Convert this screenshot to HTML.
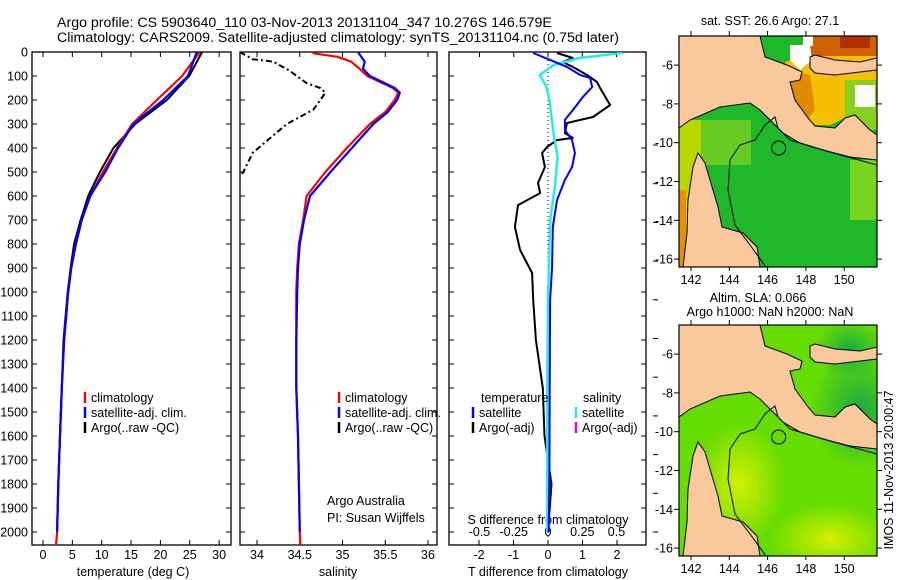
<!DOCTYPE html>
<html><head><meta charset="utf-8"><style>
html,body{margin:0;padding:0;background:#fff;}
svg{display:block;font-family:"Liberation Sans",sans-serif;}
text{font-size:12.5px;fill:#000;}
</style></head><body>
<svg id="fig" width="900" height="580" viewBox="0 0 900 580">
<text x="57" y="27" style="font-size:14.2px">Argo profile: CS 5903640_110 03-Nov-2013 20131104_347 10.276S 146.579E</text>
<text x="57" y="42" style="font-size:14.2px">Climatology: CARS2009. Satellite-adjusted climatology: synTS_20131104.nc (0.75d later)</text>
<g id="plots"></g>
<g id="maps"></g>
<text transform="translate(893,470) rotate(-90)" text-anchor="middle">IMOS 11-Nov-2013 20:00:47</text>
</svg>
<script>
// ---- data ----
const tDepth=[0,100,200,300,400,500,600,700,800,900,1000,1200,1400,1600,1800,2000,2062];
const tClim=[26.7,23.7,19.4,15.2,12.6,10.2,8.1,6.6,5.6,4.8,4.3,3.6,3.2,2.9,2.6,2.4,2.2];
const tSat=[26.2,24.7,20.5,15.4,12.8,10.6,8.0,6.6,5.6,4.8,4.3,3.6,3.2,2.9,2.6,2.4];
const tArgo=[27.1,24.9,21.1,15.7,12.0,9.7,7.7,6.4,5.3,4.7,4.2,3.5,3.2,2.9,2.6,2.4];
const sDepth=[5,20,40,70,100,150,170,200,250,300,400,500,600,700,800,900,1000,1200,1400,1600,1800,2000,2062];
const sClim=[34.65,34.94,35.1,35.2,35.29,35.59,35.65,35.61,35.5,35.32,35.05,34.8,34.58,34.54,34.49,34.47,34.46,34.46,34.46,34.48,34.49,34.5,34.51];
const sSatDepth=[0,40,70,100,150,170,200,250,300,400,500,600,700,800,900,1000,1200,1400,1600,1800,2000];
const sSat=[35.18,35.26,35.24,35.32,35.61,35.67,35.64,35.53,35.36,35.11,34.86,34.62,34.55,34.5,34.48,34.47,34.46,34.46,34.48,34.49,34.5];
const sArgoDepth=[0,30,40,80,130,150,170,240,300,360,420,500,520];
const sArgo=[33.8,33.95,34.19,34.39,34.58,34.74,34.8,34.66,34.35,34.15,33.95,33.84,33.8];
const dTArgoDepth=[4,25,42,62,96,125,150,221,242,271,296,338,358,367,396,421,479,546,588,638,729,825,921,1033,1200,1400,1600,1800,2000];
const dTArgo=[0.26,0.72,0.43,0.72,1.13,1.42,1.51,1.80,1.59,1.30,0.55,0.49,0.72,0.26,-0.03,-0.17,-0.09,-0.29,-0.23,-0.87,-0.96,-0.81,-0.46,-0.43,-0.35,-0.15,-0.1,0.1,0.0];
const dTSatDepth=[4,33,62,96,108,146,188,242,283,325,367,421,479,533,617,729,896,1033,1400,1800,2000];
const dTSat=[-0.43,0.06,0.55,0.93,1.22,1.28,1.01,0.72,0.49,0.49,0.70,0.78,0.70,0.49,0.26,0.14,0.12,0.06,0.05,0.04,0.02];
const dSSatDepth=[4,25,54,96,146,200,338,438,563,700,1033,1400,2000];
const dSSat=[0.54,0.23,0.04,-0.06,-0.01,0.01,0.04,0.07,0.05,0.015,0.0,-0.005,-0.005];
const depthTicks=[0,100,200,300,400,500,600,700,800,900,1000,1100,1200,1300,1400,1500,1600,1700,1800,1900,2000];
const tTicks=[0,5,10,15,20,25,30];
const sTicks=[34,34.5,35,35.5,36];
const sTickLabels=["34","34.5","35","35.5","36"];
const dTTicks=[-2,-1,0,1,2];
const dSTicks=[-0.5,-0.25,0,0.25,0.5];
const dSTickLabels=["-0.5","-0.25","0","0.25","0.5"];
const lonTicks=[142,144,146,148,150];
const latTicks=[-6,-8,-10,-12,-14,-16];

// ---- axes ----
const NS="http://www.w3.org/2000/svg";
const yD=d=>52+0.24*d;
const xT=t=>43+5.87*t;
const xS=s=>257+85.5*(s-34);
const xdT=v=>548+34.5*v;
const xdS=v=>548+137*v;
const plots=document.getElementById('plots');
function mk(tag,attrs,parent){const e=document.createElementNS(NS,tag);for(const k in attrs)e.setAttribute(k,attrs[k]);(parent||plots).appendChild(e);return e;}
function txt(x,y,s,anchor,parent){const e=mk('text',{x:x,y:y,'text-anchor':anchor||'start'},parent);e.textContent=s;return e;}

const panels=[{x0:32,x1:231,name:'temperature-panel'},{x0:240,x1:437,name:'salinity-panel'},{x0:449,x1:646,name:'difference-panel'}];
panels.forEach(p=>{
  const r=mk('rect',{x:p.x0,y:52,width:p.x1-p.x0,height:493,fill:'none',stroke:'#000','stroke-width':1.3});
  
  
  depthTicks.forEach(d=>{
    mk('line',{x1:p.x0,x2:p.x0+5,y1:yD(d),y2:yD(d),stroke:'#000'});
    mk('line',{x1:p.x1,x2:p.x1-5,y1:yD(d),y2:yD(d),stroke:'#000'});
  });
});
depthTicks.forEach(d=>{const t=txt(28,yD(d)+4.5,String(d),'end');
  
  });
for(let i=0;i<11;i++){mk('line',{x1:653,x2:658,y1:145+38.7*i,y2:145+38.7*i,stroke:'#000'});}

function xticks(vals,labels,fx,x0,yl,top){vals.forEach((v,i)=>{const x=fx(v);
  mk('line',{x1:x,x2:x,y1:545,y2:540,stroke:'#000'});
  if(top)mk('line',{x1:x,x2:x,y1:52,y2:57,stroke:'#000'});
  const t=txt(x,yl,labels[i],'middle');
  
  });}
xticks(tTicks,tTicks.map(String),xT,32,559,true);
xticks(sTicks,sTickLabels,xS,240,559,true);
xticks(dTTicks,dTTicks.map(String),xdT,449,559,false);
dSTicks.forEach((v,i)=>{const x=xdS(v);mk('line',{x1:x,x2:x,y1:52,y2:57,stroke:'#000'});
  const t=txt(x,536,dSTickLabels[i],'middle');
  
  });
let a;
a=txt(133,576,'temperature (deg C)','middle');
a=txt(338,576,'salinity','middle');
a=txt(548,576,'T difference from climatology','middle');
a=txt(548,524,'S difference from climatology','middle');
a=txt(327,505,'Argo Australia');
a=txt(327,522,'PI: Susan Wijffels');
mk('line',{x1:548,x2:548,y1:52,y2:540,stroke:'#000','stroke-dasharray':'1,3'});

// ---- clip paths ----
const defs=mk('defs',{});
panels.forEach((p,i)=>{const c=mk('clipPath',{id:'clip'+i},defs);mk('rect',{x:p.x0,y:52,width:p.x1-p.x0,height:493},c);});

function line(depths,vals,fx,color,w,clip,name,dash){
  const pts=depths.map((d,i)=>fx(vals[i]).toFixed(1)+','+yD(d).toFixed(1)).join(' ');
  const e=mk('polyline',{points:pts,fill:'none',stroke:color,'stroke-width':w,'clip-path':'url(#clip'+clip+')','stroke-linejoin':'round'});
  if(dash)e.setAttribute('stroke-dasharray',dash);
  
  
}
line(tDepth,tArgo,xT,'#000',2,0,'temp-argo-line');
line(tDepth,tClim,xT,'#f00',2.2,0,'temp-climatology-line');
line(tDepth.slice(0,tSat.length),tSat,xT,'#00f',2.2,0,'temp-satellite-line');
line(sArgoDepth,sArgo,xS,'#000',2,1,'salinity-argo-line','6,3,2,3');
line(sDepth,sClim,xS,'#f00',2.2,1,'salinity-climatology-line');
line(sSatDepth,sSat,xS,'#00f',2.2,1,'salinity-satellite-line');
line(dTArgoDepth,dTArgo,xdT,'#000',2,2,'t-diff-argo-line');
line(dSSatDepth,dSSat,xdS,'#2ee','2.5',2,'s-diff-satellite-line');
line(dTSatDepth,dTSat,xdT,'#00f',2,2,'t-diff-satellite-line');

// ---- legends ----
function legend(x,y,color,label,name){mk('line',{x1:x,x2:x,y1:y-10,y2:y+1,stroke:color,'stroke-width':2.5});
  const t=txt(x+6,y,label);}
legend(85,402,'#f00','climatology','legend-temp-climatology');
legend(85,417,'#00f','satellite-adj. clim.','legend-temp-satellite');
legend(85,432,'#000','Argo(..raw -QC)','legend-temp-argo');
legend(339,402,'#f00','climatology','legend-sal-climatology');
legend(339,417,'#00f','satellite-adj. clim.','legend-sal-satellite');
legend(339,432,'#000','Argo(..raw -QC)','legend-sal-argo');
a=txt(481,402,'temperature');
a=txt(583,402,'salinity');
legend(473,417,'#00f','satellite','legend-tdiff-satellite');
legend(473,432,'#000','Argo(-adj)','legend-tdiff-argo');
legend(576,417,'#2ee','satellite','legend-sdiff-satellite');
legend(576,432,'#e0e','Argo(-adj)','legend-sdiff-argo');

// ---- maps ----
const maps=document.getElementById('maps');
const lx=l=>691+19.15*(l-142);
function drawMap(oy,kind,name){
  const g=mk('g',{transform:'translate(0,'+oy+')'},maps);
  
  
  const cid='mclip'+kind;
  const c=mk('clipPath',{id:cid},g);mk('rect',{x:679,y:36,width:198,height:231},c);
  const m=mk('g',{'clip-path':'url(#'+cid+')'},g);
  if(kind==='sst'){
    mk('rect',{x:679,y:36,width:198,height:231,fill:'#1fb82a'},m);
    mk('rect',{x:679,y:120,width:22,height:147,fill:'#b8d800'},m);
    mk('rect',{x:679,y:190,width:7,height:77,fill:'#e89000'},m);
    mk('rect',{x:701,y:120,width:50,height:45,fill:'#66cc22'},m);
    mk('rect',{x:850,y:160,width:27,height:60,fill:'#77d522'},m);
    mk('polygon',{points:'785,62 877,36 877,100 860,105 845,118 830,125 800,125 790,100',fill:'#f4c000'},m);
    mk('polygon',{points:'787,70 810,75 815,110 800,128 790,120',fill:'#e08a00'},m);
    mk('rect',{x:810,y:36,width:67,height:20,fill:'#d06000'},m);
    mk('rect',{x:840,y:36,width:30,height:12,fill:'#b03000'},m);
    mk('rect',{x:845,y:80,width:32,height:50,fill:'#88d020'},m);
    mk('rect',{x:855,y:85,width:20,height:22,fill:'#fff'},m);
    mk('rect',{x:803,y:36,width:10,height:10,fill:'#fff'},m);
    mk('polygon',{points:'790,45 810,45 812,60 800,70 790,60',fill:'#fff'},m);
  } else {
    const gr=mk('radialGradient',{id:'slaG1',cx:'0.5',cy:'0.5',r:'0.5'},g);
    mk('stop',{offset:'0','stop-color':'#d4f000'},gr);mk('stop',{offset:'1','stop-color':'#d4f000','stop-opacity':'0'},gr);
    const gr2=mk('radialGradient',{id:'slaG2',cx:'0.5',cy:'0.5',r:'0.5'},g);
    mk('stop',{offset:'0','stop-color':'#1aaa44'},gr2);mk('stop',{offset:'1','stop-color':'#1aaa44','stop-opacity':'0'},gr2);
    mk('rect',{x:679,y:36,width:198,height:231,fill:'#66dd00'},m);
    mk('ellipse',{cx:740,cy:195,rx:45,ry:60,fill:'url(#slaG1)'},m);
    mk('ellipse',{cx:830,cy:250,rx:60,ry:35,fill:'url(#slaG1)'},m);
    mk('ellipse',{cx:860,cy:120,rx:50,ry:60,fill:'url(#slaG2)'},m);
    mk('ellipse',{cx:850,cy:60,rx:35,ry:30,fill:'url(#slaG2)'},m);
  }
  const land='#f9c99c';
  mk('polygon',{points:'679,36 760,36 765,57 787,65 802,72 800,80 790,82 795,100 808,118 815,126 835,128 845,118 855,115 870,130 877,135 877,160 850,157 823,150 800,143 783,133 773,123 760,110 750,103 720,107 690,120 679,128',fill:land,stroke:'#000','stroke-width':1},m);
  mk('polygon',{points:'810,57 815,55 835,60 860,62 877,58 877,70 860,72 835,75 815,73 810,68',fill:land,stroke:'#000','stroke-width':1},m);
  mk('polygon',{points:'683,267 687,233 688,200 693,167 698,153 705,163 710,180 718,207 722,227 743,233 757,247 760,267',fill:land,stroke:'#000','stroke-width':1},m);
  mk('polyline',{points:'766,267 750,245 735,225 728,190 730,160 740,145 755,140 765,125 775,117 778,128 790,140 830,152 877,165',fill:'none',stroke:'#000','stroke-width':1},m);
  mk('rect',{x:679,y:36,width:198,height:231,fill:'none',stroke:'#000','stroke-width':1.2},g);
  mk('circle',{cx:lx(146.579),cy:36+19.4*(10.276-4.5),r:7,fill:'none',stroke:'#000','stroke-width':1},g);
  lonTicks.forEach(l=>{mk('line',{x1:lx(l),x2:lx(l),y1:36,y2:31,stroke:'#000'},g);mk('line',{x1:lx(l),x2:lx(l),y1:267,y2:271,stroke:'#000'},g);
    const t=txt(lx(l),284,String(l),'middle',g);});
  latTicks.forEach(l=>{const y=36+19.4*(-l-4.5);
    mk('line',{x1:679,x2:674,y1:y,y2:y,stroke:'#000'},g);mk('line',{x1:877,x2:882,y1:y,y2:y,stroke:'#000'},g);
    const t=txt(673,y+4.5,String(l),'end',g);});
}
drawMap(0,'sst','sst-map');
drawMap(289,'sla','sla-map');
a=txt(770,25,'sat. SST: 26.6 Argo: 27.1','middle',maps);
a=txt(758,302,'Altim. SLA: 0.066','middle',maps);
a=txt(770,316,'Argo h1000: NaN h2000: NaN','middle',maps);
</script>
</body></html>
